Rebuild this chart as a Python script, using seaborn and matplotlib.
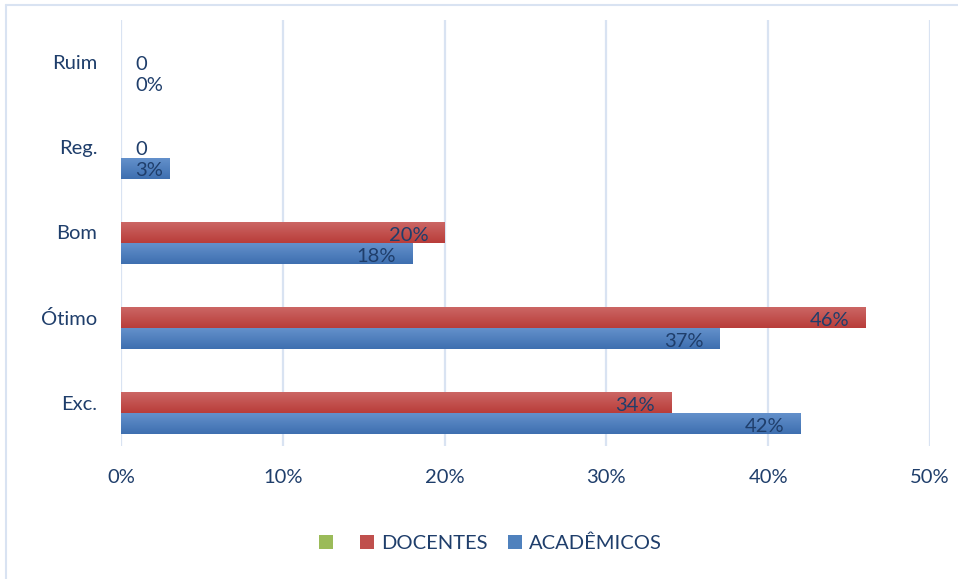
import numpy as np
import pandas as pd
import matplotlib
matplotlib.use("Agg")
import matplotlib.pyplot as plt
from matplotlib.patches import Patch
from matplotlib.lines import Line2D
from matplotlib.colors import LinearSegmentedColormap, to_hex
import seaborn as sns

categories = ["Ruim", "Reg.", "Bom", "Ótimo", "Exc."]
series_names = [" ", "DOCENTES", "ACADÊMICOS"]
outros = [np.nan, np.nan, np.nan, np.nan, np.nan]
docentes = [0, 0, 20, 46, 34]
academicos = [0, 3, 18, 37, 42]
label_docentes = ["0", "0", "20%", "46%", "34%"]
label_academicos = ["0%", "3%", "18%", "37%", "42%"]
x_ticks = [0, 10, 20, 30, 40, 50]
x_tick_labels = ["0%", "10%", "20%", "30%", "40%", "50%"]

colors = {" ": "#9bbb59", "DOCENTES": "#c0504d", "ACADÊMICOS": "#4f81bd"}
gradients = {"#c0504d": ("#cd6866", "#b83d3a"), "#4f81bd": ("#6592cc", "#3e6fb0")}
text_color = "#1f3e6b"
grid_color = "#d9e3f2"
FS = 14.5

rows = []
for name, vals in zip(series_names, [outros, docentes, academicos]):
    for c, v in zip(categories, vals):
        rows.append({"cat": c, "serie": name, "valor": v})
df = pd.DataFrame(rows).dropna()

sns.set_theme(style="white")
plt.rcParams["font.family"] = ["Lato", "DejaVu Sans"]

fig = plt.figure(figsize=(9.58, 5.79), dpi=100)
ax = fig.add_axes([121 / 958, 1 - 445.5 / 579, (930 - 121) / 958, (445.5 - 19.5) / 579])

sns.barplot(data=df, y="cat", x="valor", hue="serie", order=categories,
            hue_order=series_names, palette=colors, orient="h", width=0.74,
            saturation=1, legend=False, ax=ax, errorbar=None, edgecolor="none")

ax.set_xlim(0, 50)
ylim = ax.get_ylim()

# vertical gradient fill on each bar
for p in list(ax.patches):
    w = p.get_width()
    if not np.isfinite(w) or w <= 0:
        continue
    fc = to_hex(p.get_facecolor())
    if fc not in gradients:
        continue
    top, bot = gradients[fc]
    cmap = LinearSegmentedColormap.from_list("g", [top, bot])
    x0, y0, h = p.get_x(), p.get_y(), p.get_height()
    grad = np.linspace(0, 1, 64).reshape(-1, 1)
    im = ax.imshow(grad, extent=[x0, x0 + w, y0 + h, y0], aspect="auto",
                   cmap=cmap, origin="upper", zorder=p.get_zorder(), interpolation="bilinear")
    im.set_clip_path(p)
    p.set_facecolor("none")
ax.set_xlim(0, 50)
ax.set_ylim(ylim)

ax.set_xticks(x_ticks)
ax.set_xticklabels(x_tick_labels)
ax.set_xlabel("")
ax.set_ylabel("")
for s in ax.spines.values():
    s.set_visible(False)
ax.grid(axis="x", color=grid_color, linewidth=1.6)
ax.grid(axis="y", visible=False)
ax.set_axisbelow(True)
ax.tick_params(axis="x", length=0, pad=17, labelsize=FS, labelcolor=text_color)
ax.tick_params(axis="y", length=0, pad=17, labelsize=FS, labelcolor=text_color)

slot = 0.74 / 3
for si, (vals, labs) in enumerate([(docentes, label_docentes), (academicos, label_academicos)]):
    idx = si + 1
    for ci, (v, lab) in enumerate(zip(vals, labs)):
        y = ci - 0.37 + slot * (idx + 0.5) + 0.03
        if v < 5:
            ax.text(0.9, y, lab, ha="left", va="center", fontsize=FS, color=text_color, zorder=5)
        else:
            ax.text(v - 1.0, y, lab, ha="right", va="center", fontsize=FS, color=text_color, zorder=5)

handles = [Patch(facecolor=colors[n], edgecolor="none") for n in series_names]
leg = fig.legend(handles, ["", "DOCENTES", "ACADÊMICOS"], loc="center",
                 bbox_to_anchor=(0.512, 1 - 543 / 579), ncol=3, frameon=False,
                 fontsize=FS, handlelength=0.7, handleheight=0.7,
                 handletextpad=0.35, columnspacing=1.0)
for t in leg.get_texts():
    t.set_color(text_color)

fig.add_artist(Line2D([6 / 958, 6 / 958], [0, 1 - 5 / 579], transform=fig.transFigure,
                      color=grid_color, linewidth=1.5))
fig.add_artist(Line2D([6 / 958, 1], [1 - 5 / 579, 1 - 5 / 579], transform=fig.transFigure,
                      color=grid_color, linewidth=1.5))

fig.savefig("out.png", dpi=100)
